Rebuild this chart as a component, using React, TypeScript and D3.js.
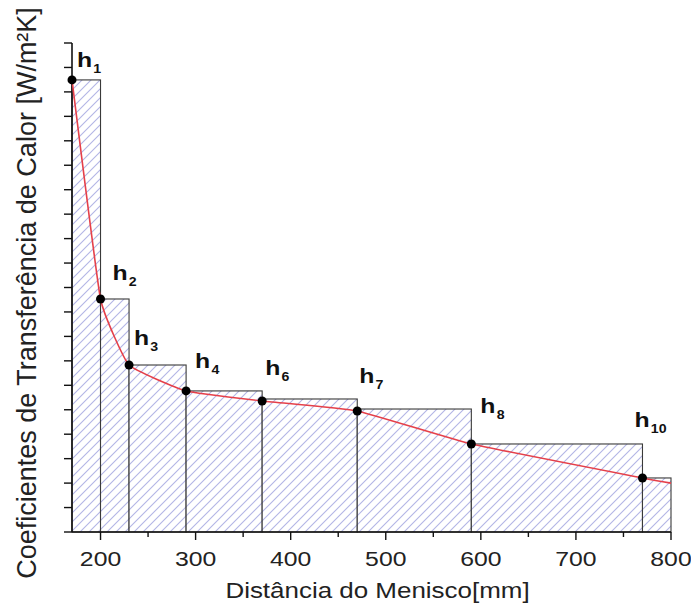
import React from "react";
import * as d3 from "d3";

// ---- data ----
const stepStarts = [170, 200, 230, 290, 370, 470, 590, 770];
const stepEnds = [200, 230, 290, 370, 470, 590, 770, 800];
const stepHeights = [18.49, 9.53, 6.83, 5.77, 5.44, 5.03, 3.6, 2.21];

const curveX = [170, 200, 230, 290, 370, 470, 590, 770, 800];
const curveY = [18.49, 9.53, 6.83, 5.77, 5.36, 4.95, 3.6, 2.21, 2.0];

const pointLabels = ["1", "2", "3", "4", "6", "7", "8", "10"];

const xMajorTicks = [200, 300, 400, 500, 600, 700, 800];
const xMinorTicks = [250, 350, 450, 550, 650, 750];
const yTicks = d3.range(0, 20.001, 1);

const xTitle = "Distância do Menisco[mm]";
const yTitle = "Coeficientes de Transferência de Calor [W/m²K]";

// ---- layout ----
const W = 691;
const H = 606;
const SX = 1.18; // horizontal stretch of text in the original figure
const labelOffsets: [number, number][] = [
  [5, -13], [12, -19], [5, -20], [9, -23], [3, -26], [2, -28], [9, -31], [-8, -51],
];
const FONT = "Arial, 'Liberation Sans', Helvetica, sans-serif";

export default function App() {
  const x = d3.scaleLinear().domain([170, 800]).range([72, 671]);
  const y = d3.scaleLinear().domain([0, 20]).range([532, 43]);

  const pts: [number, number][] = curveX.map((v, i) => [v, curveY[i]]);
  const line = d3
    .line<[number, number]>()
    .x((d) => x(d[0]))
    .y((d) => y(d[1]))
    .curve(d3.curveCardinal.tension(0.65));

  return (
    <svg
      width={W}
      height={H}
      style={{ position: "absolute", left: 0, top: 0, background: "#fff" }}
    >
      <defs>
        <pattern id="hatch" patternUnits="userSpaceOnUse" width={9} height={9}>
          <rect width={9} height={9} fill="#fff" />
          <path
            d="M-1,1 L1,-1 M0,9 L9,0 M8,10 L10,8"
            stroke="#b3b5e6"
            strokeWidth={1.1}
          />
        </pattern>
      </defs>

      {/* step rectangles */}
      {stepStarts.map((s, i) => (
        <rect
          key={i}
          x={x(s)}
          y={y(stepHeights[i])}
          width={x(stepEnds[i]) - x(s)}
          height={y(0) - y(stepHeights[i])}
          fill="url(#hatch)"
          stroke="#3a3a3a"
          strokeWidth={1.1}
        />
      ))}

      {/* axes */}
      <line x1={x(170)} x2={x(170)} y1={y(20)} y2={y(0)} stroke="#111" strokeWidth={1.6} />
      <line x1={x(170)} x2={x(800)} y1={y(0)} y2={y(0)} stroke="#111" strokeWidth={1.6} />
      {yTicks.map((t) => (
        <line key={"y" + t} x1={x(170) - 8} x2={x(170)} y1={y(t)} y2={y(t)} stroke="#111" strokeWidth={1.4} />
      ))}
      {xMajorTicks.map((t) => (
        <line key={"xM" + t} x1={x(t)} x2={x(t)} y1={y(0)} y2={y(0) + 8} stroke="#111" strokeWidth={1.4} />
      ))}
      {xMinorTicks.map((t) => (
        <line key={"xm" + t} x1={x(t)} x2={x(t)} y1={y(0)} y2={y(0) + 5} stroke="#111" strokeWidth={1.4} />
      ))}
      {xMajorTicks.map((t) => (
        <text
          key={"xl" + t}
          transform={`translate(${x(t)},566) scale(${SX},1)`}
          textAnchor="middle"
          fontFamily={FONT}
          fontSize={21}
          fill="#222"
        >
          {t}
        </text>
      ))}

      {/* curve */}
      <path d={line(pts) || ""} fill="none" stroke="#e5404a" strokeWidth={1.6} />
      {pointLabels.map((_, i) => (
        <circle key={"c" + i} cx={x(curveX[i])} cy={y(curveY[i])} r={4.5} fill="#000" />
      ))}

      {/* point labels */}
      {pointLabels.map((lab, i) => (
        <text
          key={"l" + i}
          transform={`translate(${x(curveX[i]) + labelOffsets[i][0]},${
            y(curveY[i]) + labelOffsets[i][1]
          }) scale(${SX},1)`}
          fontFamily={FONT}
          fontWeight="bold"
          fontSize={21}
          fill="#111"
        >
          h
          <tspan fontSize={12} dy={6} dx={1}>
            {lab}
          </tspan>
        </text>
      ))}

      {/* titles */}
      <text
        transform={`translate(${(x(170) + x(800)) / 2 + 6},598) scale(${SX},1)`}
        textAnchor="middle"
        fontFamily={FONT}
        fontSize={22}
        fill="#222"
      >
        {xTitle}
      </text>
      <text
        transform={`translate(36, 293) rotate(-90)`}
        textAnchor="middle"
        fontFamily={FONT}
        fontSize={27}
        fill="#222"
      >
        {yTitle}
      </text>
    </svg>
  );
}
